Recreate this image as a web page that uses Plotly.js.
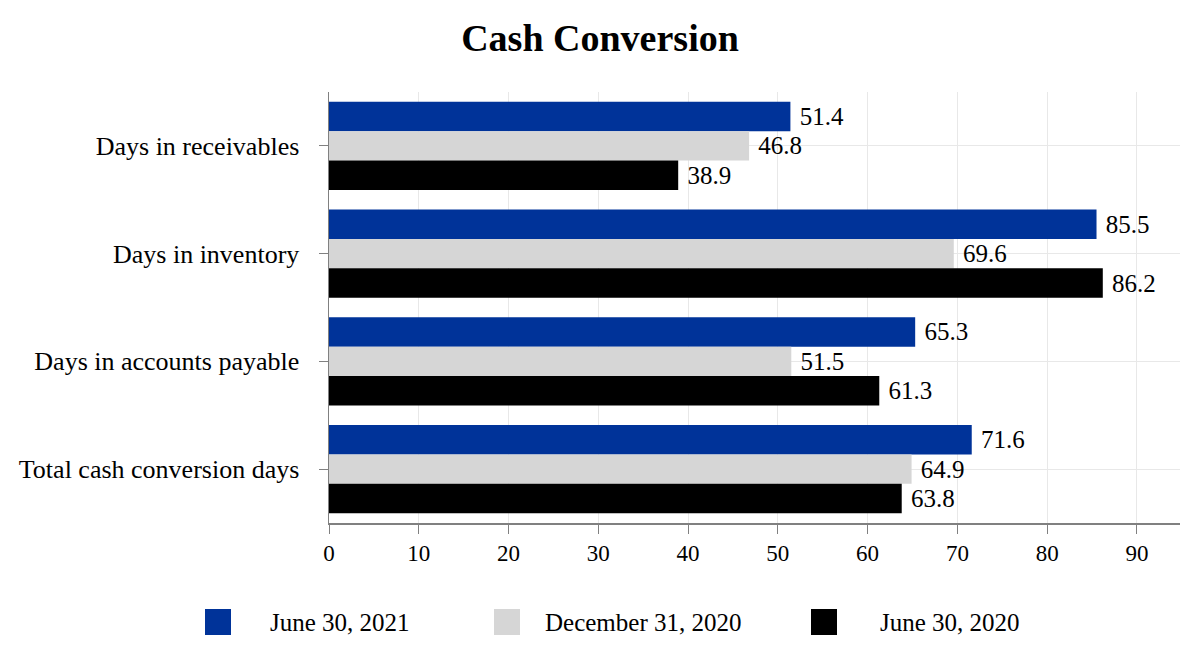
<!DOCTYPE html>
<html><head><meta charset="utf-8">
<script src="https://cdn.plot.ly/plotly-3.0.1.min.js"></script>
<style>html,body{margin:0;padding:0;background:#fff}#c{width:1200px;height:666px}</style>
</head><body><div id="c"></div>
<script>
const categories = ["Days in receivables", "Days in inventory", "Days in accounts payable", "Total cash conversion days"];
const seriesNames = ["June 30, 2021", "December 31, 2020", "June 30, 2020"];
const jun2021 = [51.4, 85.5, 65.3, 71.6];
const dec2020 = [46.8, 69.6, 51.5, 64.9];
const jun2020 = [38.9, 86.2, 61.3, 63.8];
const colors = ["#003399", "#d6d6d6", "#000000"];
const xTicks = [0, 10, 20, 30, 40, 50, 60, 70, 80, 90];

const font = "Liberation Serif, Times New Roman, serif";
const W = 1200, H = 666, M = {l: 329, r: 20, t: 92, b: 143};
const PW = W - M.l - M.r, PH = H - M.t - M.b;
const px2x = p => (p - M.l) / PW;
const px2y = p => (H - M.b - p) / PH;

const data = [jun2021, dec2020, jun2020].map((vals, i) => ({
  type: "bar", orientation: "h", name: seriesNames[i],
  y: categories, x: vals,
  marker: {color: colors[i]},
  text: vals.map(v => "\u00a0" + v.toFixed(1)), textposition: "outside",
  textfont: {family: font, size: 25, color: "#000"},
  cliponaxis: false, hoverinfo: "none", showlegend: false
}));

// custom legend (large square swatches, like the reference)
const legendSwatchLeft = [205, 494, 811];
const legendTextLeft = [268, 543, 878];
const legendCenterY = 622, sw = 26;
const shapes = seriesNames.map((n, i) => ({
  type: "rect", xref: "paper", yref: "paper",
  x0: px2x(legendSwatchLeft[i]), x1: px2x(legendSwatchLeft[i] + sw),
  y0: px2y(legendCenterY + sw / 2), y1: px2y(legendCenterY - sw / 2),
  fillcolor: colors[i], line: {width: 0}
}));
const annotations = seriesNames.map((n, i) => ({
  text: n, xref: "paper", yref: "paper", showarrow: false,
  x: px2x(legendTextLeft[i]), xanchor: "left",
  y: px2y(legendCenterY), yanchor: "middle",
  font: {family: font, size: 25, color: "#000"}
}));

const layout = {
  width: W, height: H, margin: M,
  paper_bgcolor: "#fff", plot_bgcolor: "#fff",
  font: {family: font, size: 25, color: "#000"},
  title: {text: "<b>Cash Conversion</b>", x: 0.5, xanchor: "center", y: 0.943, yanchor: "middle", font: {family: font, size: 38, color: "#000"}},
  barmode: "group", bargap: 0.18, bargroupgap: 0,
  xaxis: {range: [0, 94.8], tickvals: xTicks, ticktext: xTicks.map(String),
    showgrid: true, gridcolor: "#e8e8e8", gridwidth: 1,
    showline: true, linecolor: "#808080", linewidth: 1.5,
    ticks: "outside", ticklen: 9, tickcolor: "#808080",
    zeroline: false, tickfont: {family: font, size: 23}},
  yaxis: {autorange: "reversed", showgrid: true, gridcolor: "#e8e8e8",
    showline: true, linecolor: "#808080", linewidth: 1.5,
    ticks: "outside", ticklen: 9, tickcolor: "#808080",
    tickfont: {family: font, size: 26}, ticklabelstandoff: 14},
  shapes: shapes, annotations: annotations,
  showlegend: false
};
Plotly.newPlot("c", data, layout, {displayModeBar: false, staticPlot: true});
</script></body></html>
